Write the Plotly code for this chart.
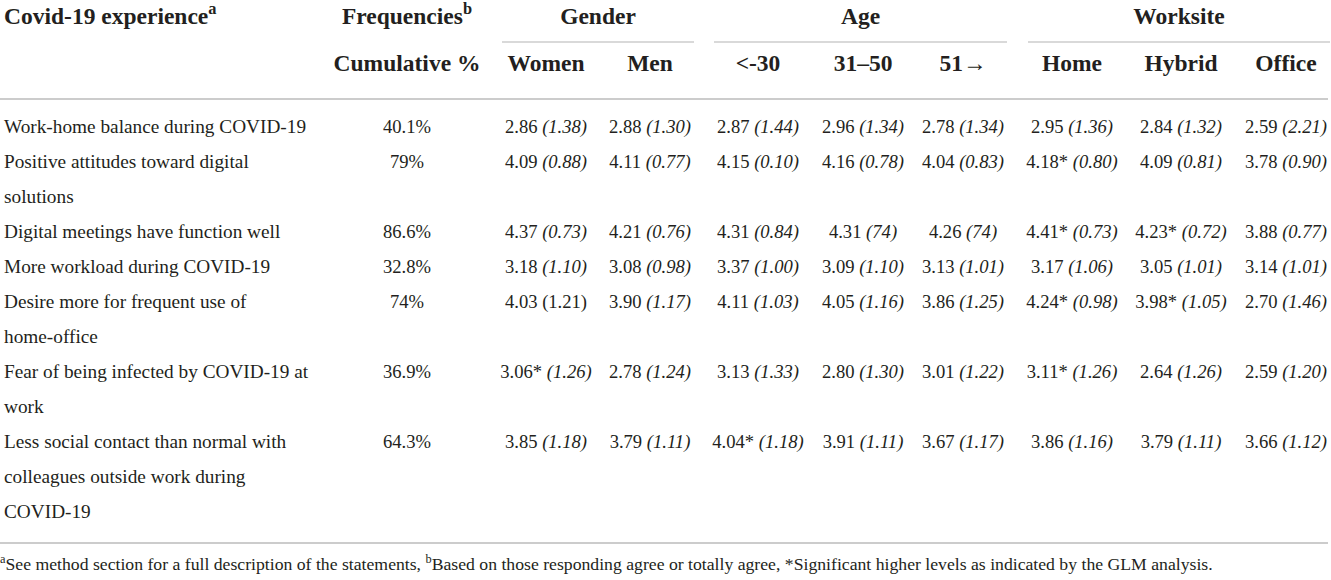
import plotly.graph_objects as go

# ---- table content ----
ITEMS = [
    "Work-home balance during COVID-19",
    "Positive attitudes toward digital<br>solutions",
    "Digital meetings have function well",
    "More workload during COVID-19",
    "Desire more for frequent use of<br>home-office",
    "Fear of being infected by COVID-19 at<br>work",
    "Less social contact than normal with<br>colleagues outside work during<br>COVID-19",
]
FREQ = ["40.1%", "79%", "86.6%", "32.8%", "74%", "36.9%", "64.3%"]

GROUPS = ["Gender", "Age", "Worksite"]
GROUP_COLS = [2, 3, 3]
SUBCOLS = ["Women", "Men", "<-30", "31–50", "51→", "Home", "Hybrid", "Office"]

WOMEN = ["2.86 (1.38)", "4.09 (0.88)", "4.37 (0.73)", "3.18 (1.10)", "4.03 (1.21)", "3.06* (1.26)", "3.85 (1.18)"]
MEN = ["2.88 (1.30)", "4.11 (0.77)", "4.21 (0.76)", "3.08 (0.98)", "3.90 (1.17)", "2.78 (1.24)", "3.79 (1.11)"]
AGE_U30 = ["2.87 (1.44)", "4.15 (0.10)", "4.31 (0.84)", "3.37 (1.00)", "4.11 (1.03)", "3.13 (1.33)", "4.04* (1.18)"]
AGE_31_50 = ["2.96 (1.34)", "4.16 (0.78)", "4.31 (74)", "3.09 (1.10)", "4.05 (1.16)", "2.80 (1.30)", "3.91 (1.11)"]
AGE_51 = ["2.78 (1.34)", "4.04 (0.83)", "4.26 (74)", "3.13 (1.01)", "3.86 (1.25)", "3.01 (1.22)", "3.67 (1.17)"]
HOME = ["2.95 (1.36)", "4.18* (0.80)", "4.41* (0.73)", "3.17 (1.06)", "4.24* (0.98)", "3.11* (1.26)", "3.86 (1.16)"]
HYBRID = ["2.84 (1.32)", "4.09 (0.81)", "4.23* (0.72)", "3.05 (1.01)", "3.98* (1.05)", "2.64 (1.26)", "3.79 (1.11)"]
OFFICE = ["2.59 (2.21)", "3.78 (0.90)", "3.88 (0.77)", "3.14 (1.01)", "2.70 (1.46)", "2.59 (1.20)", "3.66 (1.12)"]
COLUMNS = [WOMEN, MEN, AGE_U30, AGE_31_50, AGE_51, HOME, HYBRID, OFFICE]

# cells where the SD is printed upright in the source (column, row)
UPRIGHT = {(0, 4)}

FOOTNOTE = ("<sup>a</sup>See method section for a full description of the statements, "
            "<sup>b</sup>Based on those responding agree or totally agree, "
            "*Significant higher levels as indicated by the GLM analysis.")

# ---- layout (pixels) ----
W, H = 1331, 580
LABEL_X = 4
FREQ_X = 407
COL_X = [546, 650, 758, 863, 963, 1072, 1181, 1286]
HALF_SPAN = 44
HEAD_Y1, HEAD_Y2 = 18, 65
ROW_Y0, LINE_H = 128, 35
GROUP_RULE_Y, HEAD_RULE_Y, BOTTOM_RULE_Y, FOOT_Y = 42, 99, 543, 566
RULE_X1 = 1328

FONT = "Liberation Serif"
INK = "#231f20"
RULE = "#cccccc"
LABEL_SIZE = 19.3
NUM_SIZE = 18.6
HEAD_SIZE = 23.5
FOOT_SIZE = 17.7


def fmt(cell, upright=False):
    mean, sd = cell.split(" ", 1)
    return f"{mean} {sd}" if upright else f"{mean} <i>{sd}</i>"


def text_trace(x, y, text, font, pos="middle center"):
    return go.Scatter(x=x, y=y, text=text, mode="text", textposition=pos,
                      textfont=font, hoverinfo="skip", cliponaxis=False)


# line positions of each item
label_x, label_y, label_txt, row_y = [], [], [], []
line = 0
for item in ITEMS:
    row_y.append(ROW_Y0 + line * LINE_H)
    for p in item.split("<br>"):
        label_x.append(LABEL_X)
        label_y.append(ROW_Y0 + line * LINE_H)
        label_txt.append(p)
        line += 1

fig = go.Figure()

label_font = dict(family=FONT, size=LABEL_SIZE, color=INK)
num_font = dict(family=FONT, size=NUM_SIZE, color=INK)
head_font = dict(family=FONT, size=HEAD_SIZE, color=INK, weight="bold")

fig.add_trace(text_trace(label_x, label_y, label_txt, label_font, "middle right"))
fig.add_trace(text_trace([FREQ_X] * len(FREQ), row_y, FREQ, num_font))
for ci, col in enumerate(COLUMNS):
    txt = [fmt(c, (ci, ri) in UPRIGHT) for ri, c in enumerate(col)]
    fig.add_trace(text_trace([COL_X[ci]] * len(col), row_y, txt, num_font))

# header
fig.add_trace(text_trace([LABEL_X], [HEAD_Y1], ["Covid-19 experience<sup>a</sup>"], head_font, "middle right"))
fig.add_trace(text_trace([FREQ_X, FREQ_X], [HEAD_Y1, HEAD_Y2],
                         ["Frequencies<sup>b</sup>", "Cumulative %"], head_font))
fig.add_trace(text_trace(COL_X, [HEAD_Y2] * len(COL_X), SUBCOLS, head_font))

gx, start = [], 0
for g, n in zip(GROUPS, GROUP_COLS):
    x0, x1 = COL_X[start], COL_X[start + n - 1]
    gx.append((x0 + x1) / 2)
    fig.add_shape(type="line", x0=x0 - HALF_SPAN, x1=x1 + HALF_SPAN, y0=GROUP_RULE_Y, y1=GROUP_RULE_Y,
                  line=dict(color=RULE, width=1.5))
    start += n
fig.add_trace(text_trace(gx, [HEAD_Y1] * len(gx), GROUPS, head_font))

for yy in (HEAD_RULE_Y, BOTTOM_RULE_Y):
    fig.add_shape(type="line", x0=0, x1=RULE_X1, y0=yy, y1=yy, line=dict(color=RULE, width=2))

fig.add_trace(text_trace([0], [FOOT_Y], [FOOTNOTE],
                         dict(family=FONT, size=FOOT_SIZE, color=INK), "middle right"))

fig.update_layout(
    width=W, height=H, autosize=False,
    margin=dict(l=0, r=0, t=0, b=0),
    paper_bgcolor="white", plot_bgcolor="white",
    showlegend=False, hovermode=False,
    xaxis=dict(range=[0, W], visible=False, fixedrange=True),
    yaxis=dict(range=[H, 0], visible=False, fixedrange=True),
)

# the page's default body margin would push the table 8px off
fig.write_html("out.html", config={"displayModeBar": False},
               post_script="document.body.style.margin='0px';")
